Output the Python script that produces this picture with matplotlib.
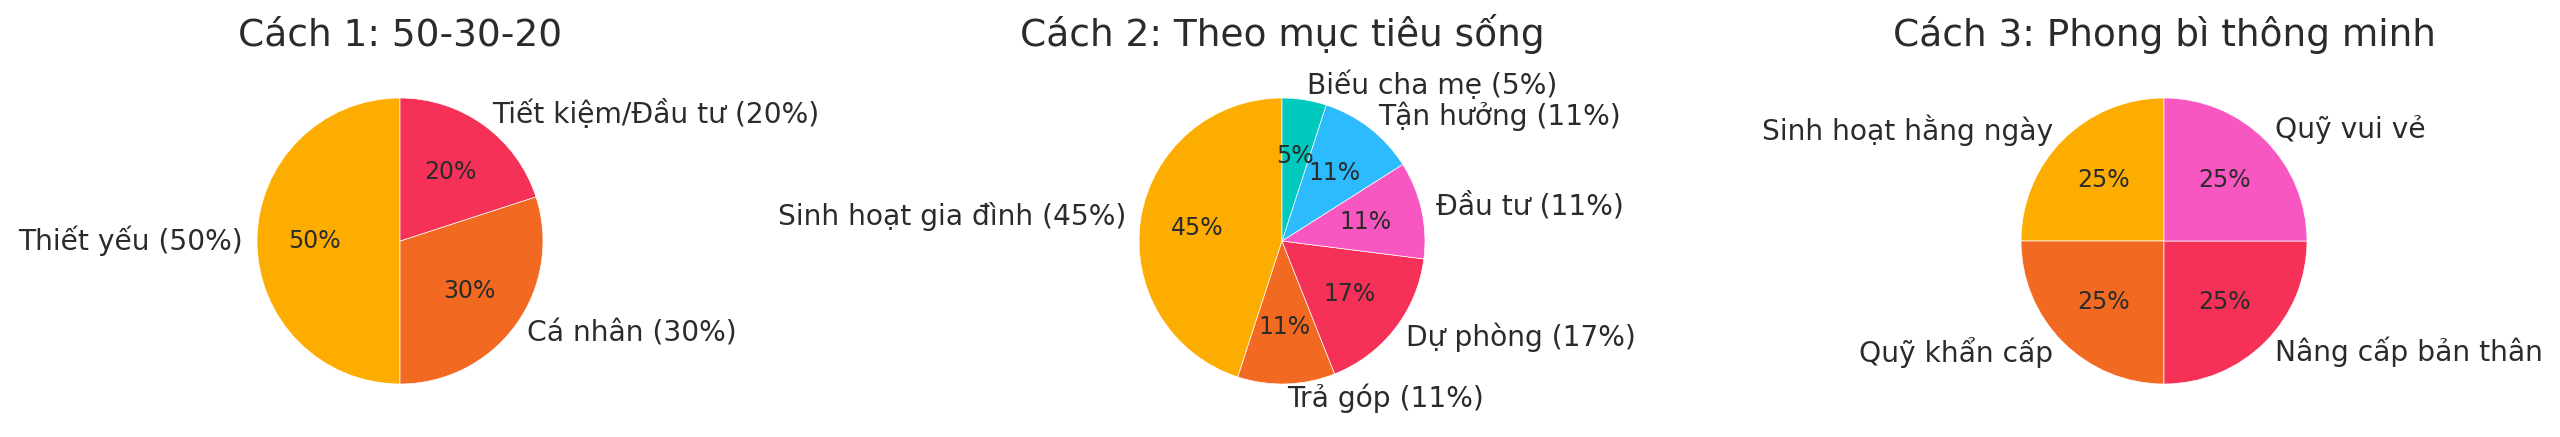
import matplotlib
matplotlib.use("Agg")
import matplotlib.pyplot as plt

# Cách 1
names_1 = ["Thiết yếu", "Cá nhân", "Tiết kiệm/Đầu tư"]
values_1 = [50, 30, 20]

# Cách 2
names_2 = ["Sinh hoạt gia đình", "Trả góp", "Dự phòng", "Đầu tư", "Tận hưởng", "Biếu cha mẹ"]
values_2 = [45, 11, 17, 11, 11, 5]

# Cách 3
names_3 = ["Sinh hoạt hằng ngày", "Quỹ khẩn cấp", "Nâng cấp bản thân", "Quỹ vui vẻ"]
values_3 = [25, 25, 25, 25]

titles = ["Cách 1: 50-30-20", "Cách 2: Theo mục tiêu sống", "Cách 3: Phong bì thông minh"]

ORANGE = "#FDAD00"
ORANGE_RED = "#F26A21"
RED = "#F53157"
PINK = "#F857C1"
BLUE = "#2CBCFD"
CYAN = "#00C9BE"

colors_1 = [ORANGE, ORANGE_RED, RED]
colors_2 = [ORANGE, ORANGE_RED, RED, PINK, BLUE, CYAN]
colors_3 = [ORANGE, ORANGE_RED, RED, PINK]

labels_1 = [f"{n} ({v}%)" for n, v in zip(names_1, values_1)]
labels_2 = [f"{n} ({v}%)" for n, v in zip(names_2, values_2)]
labels_3 = names_3

TEXT = "#2b2b2b"
plt.rcParams["font.family"] = ["DejaVu Sans"]
plt.rcParams["text.color"] = TEXT

W, H = 2560, 437
fig = plt.figure(figsize=(W / 100, H / 100), dpi=100)

size = 357.5
cy = 196
centers = [400, 1282, 2164]

data = [(values_1, labels_1, colors_1), (values_2, labels_2, colors_2), (values_3, labels_3, colors_3)]

for cx, title, (vals, labs, cols) in zip(centers, titles, data):
    ax = fig.add_axes([(cx - size / 2) / W, (cy - size / 2) / H, size / W, size / H])
    wedges, texts, autotexts = ax.pie(
        vals, labels=labs, colors=cols, autopct="%1.0f%%", startangle=90,
        wedgeprops=dict(edgecolor="white", linewidth=0.5),
        textprops=dict(color=TEXT, fontsize=20.25),
    )
    for t in autotexts:
        t.set_fontsize(17)
    ax.set_title(title, fontsize=27, color=TEXT, pad=12)

fig.savefig("out.png", dpi=100, facecolor="white")
